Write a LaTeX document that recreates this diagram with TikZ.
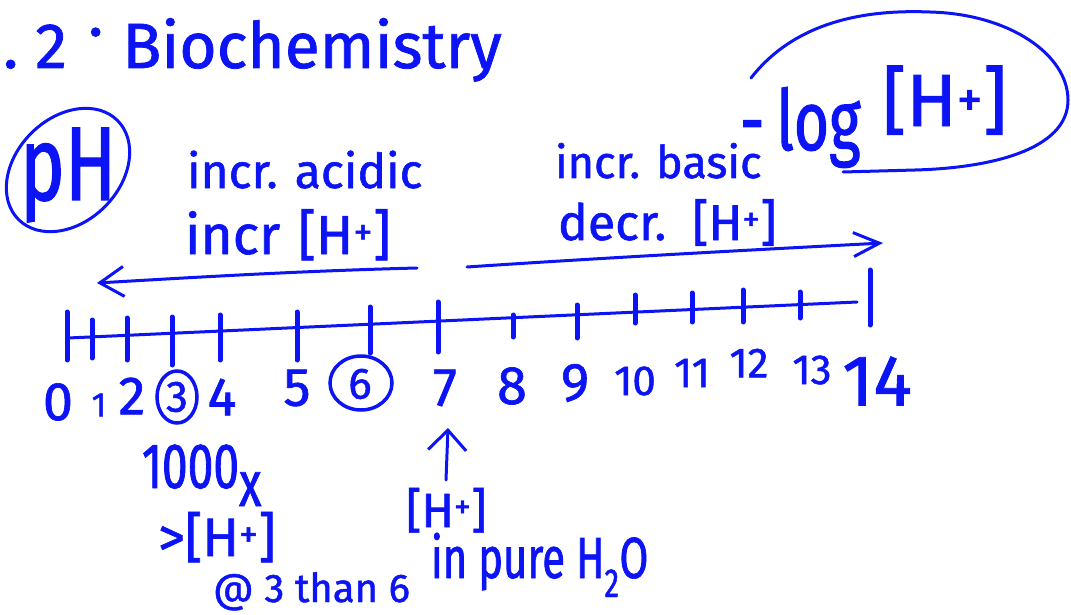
\documentclass[tikz,border=0pt]{standalone}
\usepackage{fontspec}
\setmainfont{Fira Sans}[FakeBold=1.2]
\newfontfamily\hwn[FakeStretch=0.72,FakeBold=1.2]{Fira Sans}
\usetikzlibrary{arrows.meta}
\definecolor{ink}{RGB}{12,20,245}
\newcommand\fs[1]{\fontsize{#1}{#1}\selectfont}
\newcommand\Hp{[H\textsuperscript{+}]}
\begin{document}
\begin{tikzpicture}[x=1pt,y=-1pt,
  every node/.style={text=ink, inner sep=0pt, outer sep=0pt},
  txt/.style={anchor=base west},
  num/.style={font=\fs{54}},
  smallnum/.style={font=\fs{42}},
  pen/.style={draw=ink, line width=3pt, line cap=round, line join=round},
  tick/.style={draw=ink, line width=5pt, line cap=round},
  ring/.style={draw=ink, line width=3.5pt}
]
\useasboundingbox (0,0) rectangle (1071,615);

% title
\node[txt, font=\fs{64}] (title) at (3,68) {.\hspace{17pt}2\hspace{21pt}\raisebox{16pt}{·}\hspace{19pt}Biochemistry};

% pH circled
\node[txt, font=\hwn\fs{105}] (ph) at (20,200) {pH};
\draw[ring, line width=3pt, rotate around={45:(68,170)}] (68,170) ellipse [x radius=70, y radius=52];

% acidic side
\node[txt, font=\fs{48}] (acid) at (187,188) {incr. acidic};
\node[txt, font=\fs{55}] (incrH) at (185,254) {incr\hspace{18pt}\Hp};
\coordinate (la1) at (417,268);
\coordinate (la2) at (97,283);
\draw[pen, -{Straight Barb[length=24pt,width=30pt]}] (la1) .. controls (300,271) and (200,277) .. (la2);

% basic side
\node[txt, font=\fs{45}] (basic) at (555,178) {incr. basic};
\node[txt, font=\fs{50}] (decrH) at (558,240) {decr.\hspace{26pt}\Hp};
\coordinate (ra1) at (467,267);
\coordinate (ra2) at (883,243);
\draw[pen, -{Straight Barb[length=26pt,width=24pt]}] (ra1) .. controls (600,258) and (750,250) .. (ra2);

% -log[H+]
\node[txt] (log) at (740,150) {{\hwn\fs{84}-\hspace{12pt}log}\hspace{22pt}\raisebox{24pt}{\fs{74}\Hp}};
\draw[pen, line width=3pt] (751,78) .. controls (800,15) and (880,10) .. (930,12)
  .. controls (1010,14) and (1068,55) .. (1068,100)
  .. controls (1068,150) and (990,168) .. (915,170) -- (843,172);

% number line
\coordinate (ax0) at (68,338);
\coordinate (ax1) at (857,302);
\draw[pen] (ax0) -- (ax1);
\foreach \x/\t/\b in {67/312/360, 92/320/358, 127/318/360, 172/317/365, 220/315/360,
  297/312/360, 370/307/353, 438/302/352, 513/315/337, 577/305/338, 635/295/323,
  692/293/322, 743/290/322, 800/292/318, 870/270/325}
  \draw[tick] (\x,\t) -- (\x,\b);

\node[num] (n0) at (58,402) {0};
\node[font=\fs{34}] (n1) at (99,405) {1};
\node[num] (n2) at (132,396) {2};
\node[font=\fs{44}] (n3) at (177,397) {3};
\draw[ring] (n3.center) ellipse [x radius=20, y radius=26];
\node[num] (n4) at (222,397) {4};
\node[num] (n5) at (297,388) {5};
\node[font=\fs{44}] (n6) at (360,384) {6};
\draw[ring] (361,383) ellipse [x radius=31, y radius=27];
\node[num] (n7) at (445,388) {7};
\node[num] (n8) at (512,386) {8};
\node[num] (n9) at (575,383) {9};
\node[smallnum] (n10) at (635,381) {10};
\node[smallnum] (n11) at (692,373) {11};
\node[smallnum] (n12) at (749,363) {12};
\node[smallnum] (n13) at (812,370) {13};
\node[font=\fs{72}] (n14) at (877,381) {14};

% annotations below
\coordinate (ua1) at (446,480);
\coordinate (ua2) at (448,428);
\draw[pen, -{Straight Barb[length=20pt,width=38pt]}] (ua1) -- (ua2);
\node[txt, font=\fs{48}] (pureH) at (406,527) {\Hp};
\node[txt, font=\hwn\fs{58}] (pure) at (431,578) {in pure H\textsubscript{2}O};

\node[txt, font=\hwn\fs{64}] (k) at (142,488) {1000\raisebox{-18pt}{x}};
\node[txt, font=\fs{54}] (gt) at (158,556) {>\Hp};
\node[txt, font=\fs{40}] (than) at (213,602) {@ 3 than 6};
\end{tikzpicture}
\end{document}
